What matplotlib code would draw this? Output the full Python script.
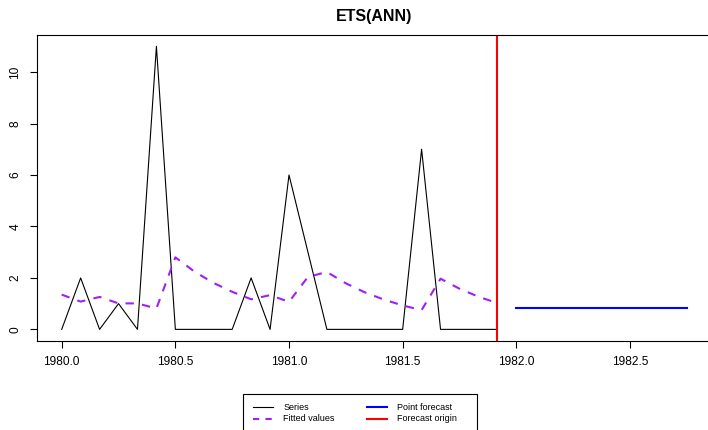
import matplotlib
matplotlib.use("Agg")
import matplotlib.pyplot as plt
from matplotlib.lines import Line2D
from matplotlib.patches import Rectangle
from matplotlib.ticker import FixedLocator, FormatStrFormatter

plt.rcParams['font.family'] = ['Liberation Sans', 'DejaVu Sans']

# ---- data ----
start_year = 1980.0
freq = 12
series = [0, 2, 0, 1, 0, 11, 0, 0, 0, 0, 2, 0,
          6, 3, 0, 0, 0, 0, 0, 7, 0, 0, 0, 0]
fitted = [1.35, 1.08, 1.26, 1.01, 1.01, 0.81, 2.80, 2.25, 1.81, 1.46, 1.17, 1.33,
          1.07, 2.04, 2.23, 1.79, 1.44, 1.16, 0.93, 0.75, 1.97, 1.58, 1.27, 1.02]
forecast = [0.82] * 10
x_ticks = [1980.0, 1980.5, 1981.0, 1981.5, 1982.0, 1982.5]
y_ticks = [0, 2, 4, 6, 8, 10]
title = "ETS(ANN)"
legend_labels = ["Series", "Fitted values", "Point forecast", "Forecast origin"]

t_hist = [start_year + i / freq for i in range(len(series))]
t_fc = [t_hist[-1] + (i + 1) / freq for i in range(len(forecast))]
origin = t_hist[-1]

W, H = 708, 430
fig = plt.figure(figsize=(W / 100, H / 100), dpi=100)

# axes placement in pixels
left, right, top, bottom = 36.7, 711.8, 35.0, 340.7
ax = fig.add_axes([left / W, 1 - bottom / H, (right - left) / W, (bottom - top) / H])

ax.plot(t_hist, series, color='black', lw=0.8)
ax.plot(t_hist, fitted, color='#A020F0', lw=1.5, ls=(0, (4, 4)))
ax.plot(t_fc, forecast, color='#0000FF', lw=1.5)
ax.axvline(origin, color='#FF0000', lw=1.5)

ax.set_xlim(1979.89, 1982.86)
ax.set_ylim(-0.44, 11.44)
ax.xaxis.set_major_locator(FixedLocator(x_ticks))
ax.xaxis.set_major_formatter(FormatStrFormatter('%.1f'))
ax.yaxis.set_major_locator(FixedLocator(y_ticks))
ax.tick_params(axis='both', direction='out', length=5, width=0.8, color='black',
               labelsize=8.6)
ax.tick_params(axis='x', pad=6)
ax.tick_params(axis='y', pad=6)
for lab in ax.get_yticklabels():
    lab.set_rotation(90)
    lab.set_va('center')
for s in ax.spines.values():
    s.set_linewidth(0.8)
    s.set_color('black')

fig.text(374 / W, 1 - 16 / H, title, ha='center', va='center',
         fontsize=11.5, fontweight='bold')

# ---- legend (drawn in figure pixels) ----
def px(x, y):
    return (x / W, 1 - y / H)

lx0, ly0, lx1, ly1 = 243.3, 394.0, 476.7, 440.0
fig.patches.append(Rectangle(px(lx0, ly1), (lx1 - lx0) / W, (ly1 - ly0) / H,
                             transform=fig.transFigure, fill=False,
                             edgecolor='black', lw=0.8))
styles = [
    dict(color='black', lw=0.8, ls='-'),
    dict(color='#A020F0', lw=1.5, ls=(0, (3, 3))),
    dict(color='#0000FF', lw=1.5, ls='-'),
    dict(color='#FF0000', lw=1.5, ls='-'),
]
positions = [(252.7, 407.3), (252.7, 418.7), (366.7, 407.3), (366.7, 418.7)]
for lab, st, (x, y) in zip(legend_labels, styles, positions):
    (xa, ya) = px(x, y)
    (xb, _) = px(x + 20.6, y)
    fig.lines.append(Line2D([xa, xb], [ya, ya], transform=fig.transFigure, **st))
    fig.text(*px(x + 30.6, y), lab, ha='left', va='center', fontsize=6.5)

fig.savefig('out.png', dpi=100)
